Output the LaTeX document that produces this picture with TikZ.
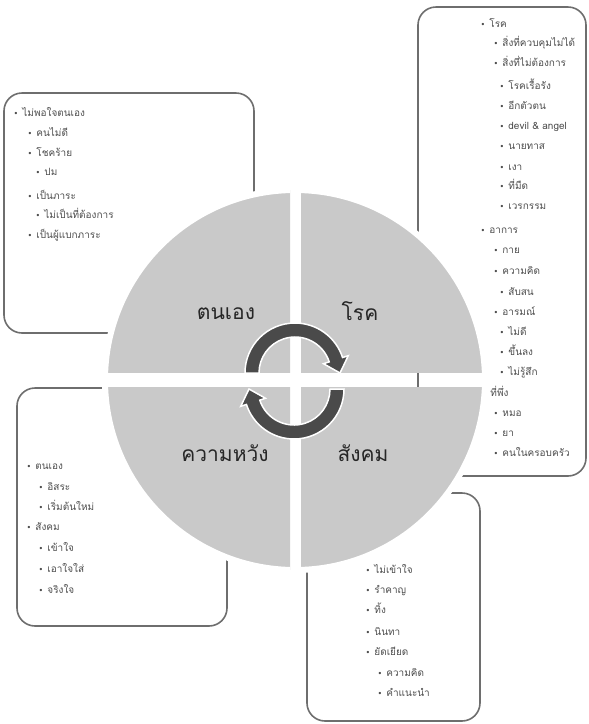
\documentclass[tikz,border=0pt]{standalone}
\usepackage{fontspec}
\newfontfamily\thaifont[Script=Thai]{Loma}
\newfontfamily\bulletfont{DejaVu Sans}
\newcommand\bul{{\bulletfont\fontsize{8}{8}\selectfont •}\hspace{4pt}}
\definecolor{pie}{HTML}{C9C9C9}
\definecolor{turncol}{HTML}{4A4A4A}
\definecolor{boxline}{HTML}{6E6E6E}
\definecolor{note}{HTML}{4D4D4D}

\begin{document}
\begin{tikzpicture}[x=1pt, y=-1pt,
	notebox/.style={draw=boxline, line width=1.6pt, rounded corners=18pt},
	quad/.style={fill=pie, draw=white, line width=6pt},
	item/.style={anchor=base west, inner sep=0pt, text=note, font=\thaifont\fontsize{10}{12}\selectfont},
	quadtext/.style={anchor=base, inner sep=0pt, text=black!85, font=\thaifont\fontsize{21}{24}\selectfont},
	turn/.style={fill=turncol, draw=white, line width=1.5pt}]
		\useasboundingbox (0,0) rectangle (589,724);
		\coordinate (ctr) at (295,380);
		\draw[notebox] (4,93) rectangle (254,333);
		\draw[notebox] (418,7) rectangle (586,476);
		\draw[notebox] (17,388) rectangle (227,626);
		\draw[notebox] (307,493) rectangle (480,721);
		\foreach \x/\y/\t [count=\i] in {16/113/ไม่พอใจตนเอง, 30/133/คนไม่ดี, 30/153/โชคร้าย, 38/172/ปม,
			30/196/เป็นภาระ, 38/215/ไม่เป็นที่ต้องการ, 30/235/เป็นผู้แบกภาระ}
			\node[item] (tl\i) at (\x-2.5,\y+3) {\bul\t};
		\foreach \x/\y/\t [count=\i] in {483/24/โรค, 496/43/สิ่งที่ควบคุมไม่ได้, 496/63/สิ่งที่ไม่ต้องการ,
			502/86/โรคเรื้อรัง, 502/106/อีกตัวตน, 502/126/devil \& angel, 502/146/นายทาส, 502/167/เงา,
			502/186/ที่มืด, 502/206/เวรกรรม, 483/230/อาการ, 496/250/กาย, 496/271/ความคิด, 502/292/สับสน,
			496/312/อารมณ์, 502/332/ไม่ดี, 502/352/ขึ้นลง, 502/372/ไม่รู้สึก, 484/393/ที่พึ่ง, 496/413/หมอ,
			496/433/ยา, 496/453/คนในครอบครัว}
			\node[item] (tr\i) at (\x-2.5,\y+3) {\bul\t};
		\foreach \x/\y/\t [count=\i] in {29/466/ตนเอง, 41/487/อิสระ, 41/507/เริ่มต้นใหม่, 29/527/สังคม,
			41/548/เข้าใจ, 41/569/เอาใจใส่, 41/590/จริงใจ}
			\node[item] (bl\i) at (\x-2.5,\y+3) {\bul\t};
		\foreach \x/\y/\t [count=\i] in {368/570/ไม่เข้าใจ, 368/590/รำคาญ, 368/610/ทิ้ง, 368/632/นินทา,
			368/652/ยัดเยียด, 380/673/ความคิด, 380/693/คำแนะนำ}
			\node[item] (br\i) at (\x-2.5,\y+3) {\bul\t};
		\foreach \xa/\ya/\xb/\yb in {0/0/290/372, 301/0/589/372, 0/387/290/724, 301/387/589/724}{
			\begin{scope}
				\clip (\xa,\ya) rectangle (\xb,\yb);
				\filldraw[quad] (ctr) circle[radius=190];
			\end{scope}
		}
		\node[quadtext] (self) at (226,319) {ตนเอง};
		\node[quadtext] (illness) at (360,320) {โรค};
		\node[quadtext] (hope) at (225,461) {ความหวัง};
		\node[quadtext] (society) at (363,461) {สังคม};
		\begin{scope}[shift={(295,373)}]
			\filldraw[turn] (180:50) arc[start angle=180, end angle=342, radius=50] -- (342:56) -- (45,0)
				-- (342:30) -- (342:36) arc[start angle=342, end angle=180, radius=36] -- cycle;
		\end{scope}
		\begin{scope}[shift={(294,389)}, rotate=180]
			\filldraw[turn] (180:50) arc[start angle=180, end angle=342, radius=50] -- (342:56) -- (45,0)
				-- (342:30) -- (342:36) arc[start angle=342, end angle=180, radius=36] -- cycle;
		\end{scope}
	\end{tikzpicture}
\end{document}
